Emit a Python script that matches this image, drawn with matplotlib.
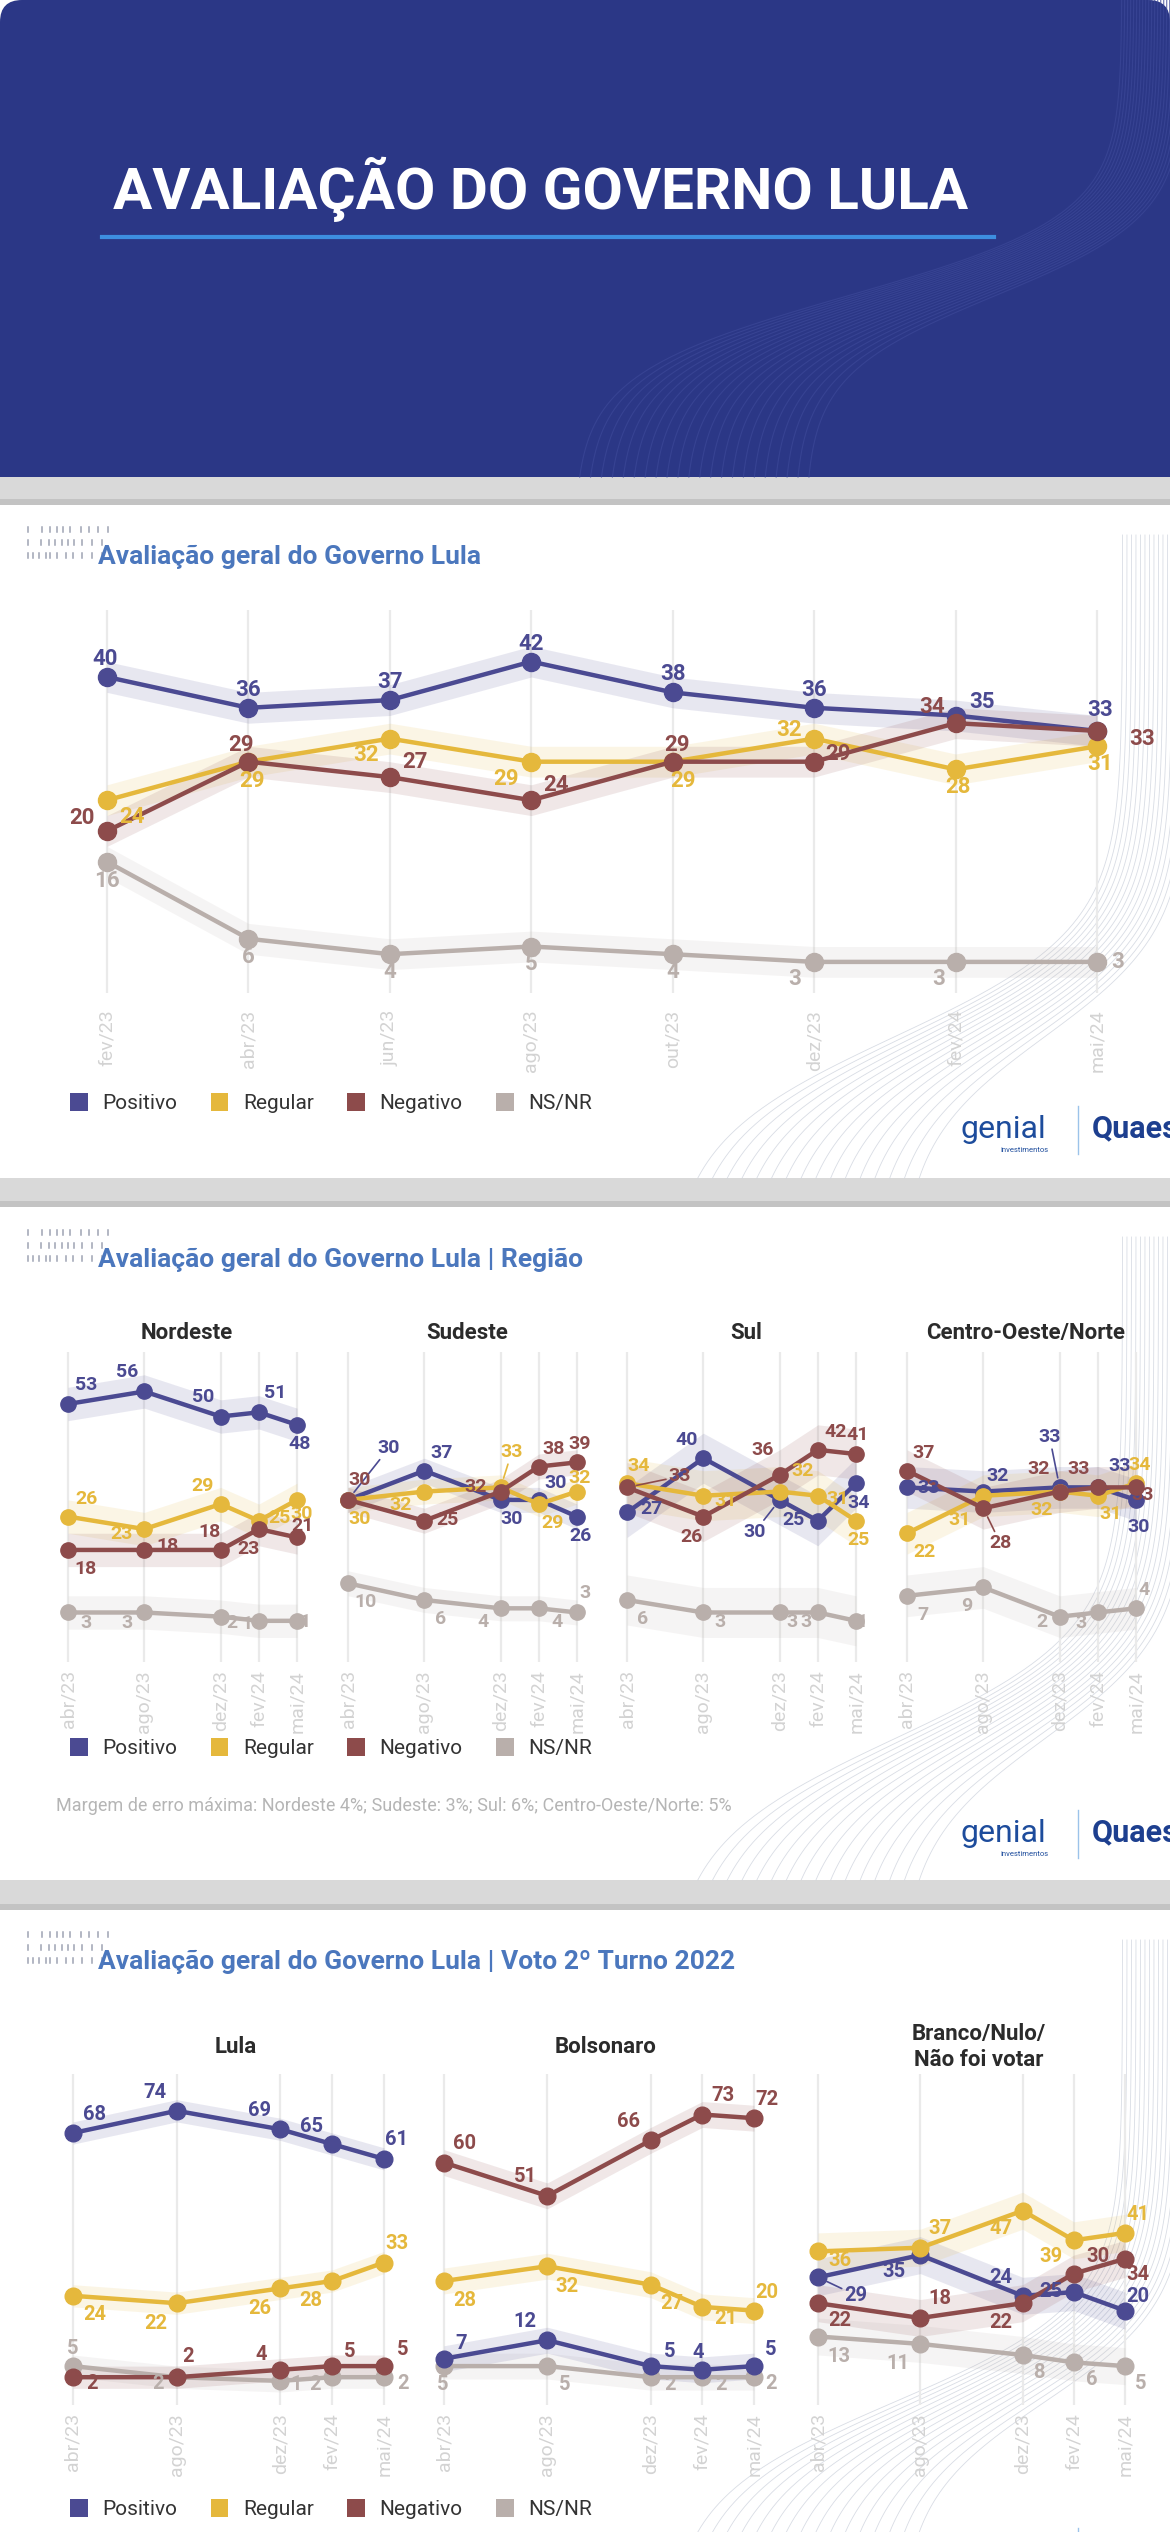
import matplotlib
matplotlib.use("Agg")
import matplotlib.pyplot as plt
from matplotlib.patches import Rectangle, FancyBboxPatch, Patch
import numpy as np

# ---------------- dados ----------------
SERIES = ["Positivo", "Regular", "Negativo", "NS/NR"]

MESES_GERAL = ["fev/23", "abr/23", "jun/23", "ago/23", "out/23", "dez/23", "fev/24", "mai/24"]
GERAL_POSITIVO = [40, 36, 37, 42, 38, 36, 35, 33]
GERAL_REGULAR = [24, 29, 32, 29, 29, 32, 28, 31]
GERAL_NEGATIVO = [20, 29, 27, 24, 29, 29, 34, 33]
GERAL_NSNR = [16, 6, 4, 5, 4, 3, 3, 3]
MARGEM_GERAL = 2

MESES = ["abr/23", "ago/23", "dez/23", "fev/24", "mai/24"]

REGIOES = ["Nordeste", "Sudeste", "Sul", "Centro-Oeste/Norte"]
MARGENS_REGIAO = [4, 3, 6, 5]
NE_POSITIVO = [53, 56, 50, 51, 48]
NE_REGULAR = [26, 23, 29, 25, 30]
NE_NEGATIVO = [18, 18, 18, 23, 21]
NE_NSNR = [3, 3, 2, 1, 1]
SE_POSITIVO = [30, 37, 30, 30, 26]
SE_REGULAR = [30, 32, 33, 29, 32]
SE_NEGATIVO = [30, 25, 32, 38, 39]
SE_NSNR = [10, 6, 4, 4, 3]
SUL_POSITIVO = [27, 40, 30, 25, 34]
SUL_REGULAR = [34, 31, 32, 31, 25]
SUL_NEGATIVO = [33, 26, 36, 42, 41]
SUL_NSNR = [6, 3, 3, 3, 1]
CO_POSITIVO = [33, 32, 33, 33, 30]
CO_REGULAR = [22, 31, 32, 31, 34]
CO_NEGATIVO = [37, 28, 32, 33, 33]
CO_NSNR = [7, 9, 2, 3, 4]

VOTOS = ["Lula", "Bolsonaro", "Branco/Nulo/\nNão foi votar"]
MARGENS_VOTO = [3, 3.5, 5]
LULA_POSITIVO = [68, 74, 69, 65, 61]
LULA_REGULAR = [24, 22, 26, 28, 33]
LULA_NEGATIVO = [2, 2, 4, 5, 5]
LULA_NSNR = [5, 2, 1, 2, 2]
BOLSO_POSITIVO = [7, 12, 5, 4, 5]
BOLSO_REGULAR = [28, 32, 27, 21, 20]
BOLSO_NEGATIVO = [60, 51, 66, 73, 72]
BOLSO_NSNR = [5, 5, 2, 2, 2]
BRANCO_POSITIVO = [29, 35, 24, 25, 20]
BRANCO_REGULAR = [36, 37, 47, 39, 41]
BRANCO_NEGATIVO = [22, 18, 22, 30, 34]
BRANCO_NSNR = [13, 11, 8, 6, 5]

# ---------------- estilo ----------------
W, H = 1170, 2532
PX = 0.72  # pontos por pixel (dpi 100)
COLORS = {"Positivo": "#4b4a92", "Regular": "#e5b83c", "Negativo": "#8d4b4b", "NS/NR": "#b9afab"}
DRAW_ORDER = ["NS/NR", "Positivo", "Regular", "Negativo"]
FONT = ["Roboto", "DejaVu Sans"]
TITLE_BLUE = "#4b77bd"
plt.rcParams["font.family"] = FONT

# posicao dos rotulos (dx, dy) em pixels, relativo ao ponto
OFF_GERAL = {
    "Positivo": [(-2, -18), (0, -18), (0, -18), (0, -18), (0, -18), (0, -18), (26, -14), (3, -21)],
    "Regular": [(25, 17), (4, 19), (-24, 16), (-25, 17), (10, 19), (-25, -9), (2, 18), (3, 18)],
    "Negativo": [(-25, -13), (-7, -17), (25, -15), (25, -15), (4, -17), (24, -8), (-24, -16), (45, 8)],
    "NS/NR": [(0, 19), (0, 18), (0, 18), (0, 18), (0, 18), (-19, 17), (-17, 17), (21, 0)],
}
OFF_REGIAO = [
    {"Positivo": [(18, -19), (-17, -19), (-18, -19), (16, -19), (3, 19)],
     "Regular": [(18, -18), (-23, 5), (-18, -18), (21, -3), (5, 14)],
     "Negativo": [(18, 19), (23, -4), (-11, -18), (-10, 20), (5, -11)],
     "NS/NR": [(18, 11), (-17, 11), (11, 6), (-12, 3), (8, 1)]},
    {"Positivo": [(41, -52), (17, -18), (11, 19), (17, -17), (3, 19)],
     "Regular": [(12, 19), (-24, 13), (11, -35), (14, 19), (3, -14)],
     "Negativo": [(12, -20), (23, -1), (-25, -5), (15, -18), (3, -18)],
     "NS/NR": [(18, 19), (16, 19), (-18, 14), (18, 14), (8, -19)]},
    {"Positivo": [(24, -3), (-17, -18), (-25, 32), (-24, -1), (3, 20)],
     "Regular": [(12, -17), (22, 5), (23, -21), (20, 3), (3, 19)],
     "Negativo": [(53, -11), (-12, 20), (-17, -25), (18, -18), (2, -19)],
     "NS/NR": [(16, 19), (17, 10), (12, 10), (-12, 10), (6, 1)]},
    {"Positivo": [(22, 1), (14, -16), (-10, -50), (22, -21), (3, 27)],
     "Regular": [(17, 19), (-24, 24), (-18, 18), (13, 18), (4, -18)],
     "Negativo": [(17, -18), (17, 35), (-21, -23), (-19, -18), (7, 8)],
     "NS/NR": [(16, 19), (-17, 19), (-18, 5), (-17, 11), (8, -18)]},
]
LEAD_REGIAO = [set(), {("Positivo", 0), ("Regular", 2)}, {("Positivo", 2), ("Negativo", 0)},
               {("Positivo", 2), ("Negativo", 1)}]
OFF_VOTO = [
    {"Positivo": [(21, -18), (-22, -18), (-21, -19), (-21, -18), (13, -19)],
     "Regular": [(22, 19), (-21, 20), (-21, 20), (-21, 20), (13, -19)],
     "Negativo": [(19, 6), (11, -21), (-19, -15), (18, -15), (19, -17)],
     "NS/NR": [(0, -18), (-19, 6), (16, 4), (-17, 7), (19, 6)]},
    {"Positivo": [(17, -15), (-22, -19), (19, -15), (-4, -17), (17, -17)],
     "Regular": [(21, 20), (20, 20), (21, 19), (23, 12), (13, -18)],
     "Negativo": [(21, -19), (-22, -19), (-22, -19), (21, -19), (13, -19)],
     "NS/NR": [(-1, 18), (17, 18), (19, 7), (19, 7), (17, 6)]},
    {"Positivo": [(38, 18), (-26, 16), (-22, -18), (-23, -1), (13, -14)],
     "Regular": [(22, 9), (20, -19), (-22, 18), (-23, 16), (13, -18)],
     "Negativo": [(22, 17), (20, -19), (-22, 19), (24, -17), (13, 16)],
     "NS/NR": [(21, 20), (-22, 20), (16, 17), (18, 17), (16, 17)]},
]
LEAD_VOTO = [set(), set(), {("Positivo", 0)}]

XPOS_GERAL = np.arange(len(MESES_GERAL))
XPOS = np.array([0, 2, 4, 5, 6])


def make_axes(fig, xa, xb, xmax, y0, k, top, bot, pad=45):
    """eixo cujo mapeamento de dados bate com a posicao em pixels"""
    left, right = xa - pad, xb + pad
    ax = fig.add_axes([left / W, 1 - bot / H, (right - left) / W, (bot - top) / H])
    ax.patch.set_alpha(0)
    sx = xmax / (xb - xa)
    ax.set_xlim(-pad * sx, xmax + pad * sx)
    ax.set_ylim((y0 - bot) / k, (y0 - top) / k)
    for s in ax.spines.values():
        s.set_visible(False)
    ax.set_yticks([])
    return ax


def draw_lines(ax, xpos, months, values, margin, offsets, leaders, ms, fs, tick_pad):
    ax.set_xticks(xpos)
    ax.set_xticklabels(months, rotation=90, fontsize=14, color="#d3d3d3")
    ax.tick_params(axis="x", length=0, pad=tick_pad)
    ax.grid(axis="x", color="#eaeaea", lw=1.6)
    ax.set_axisbelow(True)
    for name in DRAW_ORDER:
        v = np.array(values[SERIES.index(name)])
        ax.fill_between(xpos, v - margin, v + margin, color=COLORS[name], alpha=0.13, lw=0, zorder=1)
    for z, name in enumerate(DRAW_ORDER):
        v = values[SERIES.index(name)]
        ax.plot(xpos, v, color=COLORS[name], lw=3.2, marker="o", ms=ms, zorder=3 + z, clip_on=False)
    for name in DRAW_ORDER:
        v = values[SERIES.index(name)]
        for j, val in enumerate(v):
            dx, dy = offsets[name][j]
            arrow = None
            if (name, j) in leaders:
                arrow = dict(arrowstyle="-", color=COLORS[name], lw=1.2, shrinkA=0, shrinkB=7)
            ax.annotate(str(val), (xpos[j], val), xytext=(dx * PX, -dy * PX), textcoords="offset points",
                        ha="center", va="center", color=COLORS[name], fontsize=fs, fontweight="bold",
                        zorder=10, annotation_clip=False, arrowprops=arrow)


def draw_waves(bg, top, bot, color, x_end, spread, center, n=18, lw=0.7, alpha=0.7, step=2.2, fan=7):
    t = np.linspace(0, 1, 120)
    y = top + t * (bot - top)
    for i in range(n):
        s = 1 / (1 + np.exp(-(t - center) * 12))
        x = x_end - i * step - s * (spread + i * fan)
        bg.plot(x, y, color=color, lw=lw, alpha=alpha, zorder=1)


def draw_marks(bg, y_top):
    pattern = [[0, 9, 14, 18, 22, 26, 33, 38, 44, 50],
               [0, 8, 13, 17, 21, 25, 29, 34, 40, 46],
               [0, 3, 7, 11, 14, 18, 24, 28, 34, 40, 46]]
    for r, row in enumerate(pattern):
        for xo in row:
            bg.plot([28 + xo * 1.6, 28 + xo * 1.6], [y_top + r * 13, y_top + r * 13 + 5],
                    color="#9ea3b3", lw=1.1, zorder=2)


def draw_logos(bg, y):
    bg.text(960, y, "genial", color="#1d4c9c", fontsize=23, va="center", zorder=3)
    bg.text(1000, y + 20, "investimentos", color="#1d4c9c", fontsize=5.5, va="center", zorder=3)
    bg.plot([1078, 1078], [y - 24, y + 24], color="#9cc3ea", lw=1, zorder=3)
    bg.text(1092, y - 2, "Quaest", color="#1d3f8f", fontsize=22, fontweight="bold", va="center", zorder=3)


def legend(fig, y):
    handles = [Patch(facecolor=COLORS[s], edgecolor="none", label=s) for s in SERIES]
    leg = fig.legend(handles=handles, ncol=4, frameon=False, loc="center left",
                     bbox_to_anchor=(70 / W, 1 - y / H), handlelength=0.85, handleheight=1.0,
                     handletextpad=0.7, columnspacing=1.6, fontsize=15, borderaxespad=0, borderpad=0)
    for t in leg.get_texts():
        t.set_color("#333333")


fig = plt.figure(figsize=(W / 100, H / 100), dpi=100, facecolor="white")
bg = fig.add_axes([0, 0, 1, 1])
bg.set_xlim(0, W)
bg.set_ylim(H, 0)
bg.axis("off")

# cabecalho
bg.add_patch(FancyBboxPatch((0, 0), W, 477, boxstyle="round,pad=0,rounding_size=22", fc="#2b3786", ec="none"))
bg.add_patch(Rectangle((0, 200), W, 277, fc="#2b3786", ec="none"))
draw_waves(bg, 0, 477, "#3a4696", 1185, 380, 0.62, n=22, lw=0.8, alpha=0.8, step=3, fan=8)
bg.text(113, 209, "AVALIAÇÃO DO GOVERNO LULA", color="white", fontsize=42, fontweight="bold", va="baseline")
bg.plot([102, 994], [237, 237], color="#3d8ee0", lw=3)

# faixas cinzas entre paineis
for g0, g1 in [(477, 505), (1178, 1207), (1880, 1910)]:
    bg.add_patch(Rectangle((0, g0), W, g1 - g0, fc="#d9d9d9", ec="none", zorder=0.5))
    bg.add_patch(Rectangle((0, g1 - 6), W, 6, fc="#c3c3c3", ec="none", zorder=0.5))

for top, bot in [(505, 1178), (1207, 1880), (1910, 2532)]:
    draw_waves(bg, top + 30, bot, "#cfd4de", 1190, 290, 0.78, n=16, lw=0.6, alpha=0.8, step=4.5, fan=11)

# painel 1
draw_marks(bg, 527)
bg.text(98, 557, "Avaliação geral do Governo Lula", color=TITLE_BLUE, fontsize=19, fontweight="bold", va="center")
ax1 = make_axes(fig, 107, 1097, 7, 985, 7.70, 610, 993, pad=50)
draw_lines(ax1, XPOS_GERAL, MESES_GERAL, [GERAL_POSITIVO, GERAL_REGULAR, GERAL_NEGATIVO, GERAL_NSNR],
           MARGEM_GERAL, OFF_GERAL, set(), 13, 16, 12)
legend(fig, 1103)
draw_logos(bg, 1130)

# painel 2
draw_marks(bg, 1230)
bg.text(98, 1260, "Avaliação geral do Governo Lula | Região", color=TITLE_BLUE, fontsize=19,
        fontweight="bold", va="center")
regiao_vals = [
    [NE_POSITIVO, NE_REGULAR, NE_NEGATIVO, NE_NSNR],
    [SE_POSITIVO, SE_REGULAR, SE_NEGATIVO, SE_NSNR],
    [SUL_POSITIVO, SUL_REGULAR, SUL_NEGATIVO, SUL_NSNR],
    [CO_POSITIVO, CO_REGULAR, CO_NEGATIVO, CO_NSNR],
]
for i, xa in enumerate([68, 348, 627, 907]):
    ax = make_axes(fig, xa, xa + 229, 6, 1625, 4.17, 1352, 1662, pad=22)
    draw_lines(ax, XPOS, MESES, regiao_vals[i], MARGENS_REGIAO[i], OFF_REGIAO[i], LEAD_REGIAO[i], 11, 14, 6)
    bg.text(xa + 119, 1333, REGIOES[i], color="#2b2b2b", fontsize=16, fontweight="bold", ha="center", va="center")
legend(fig, 1748)
bg.text(56, 1806, "Margem de erro máxima: Nordeste 4%; Sudeste: 3%; Sul: 6%; Centro-Oeste/Norte: 5%",
        color="#b5b5b5", fontsize=13, va="center")
draw_logos(bg, 1834)

# painel 3
draw_marks(bg, 1932)
bg.text(98, 1962, "Avaliação geral do Governo Lula | Voto 2º Turno 2022", color=TITLE_BLUE, fontsize=19,
        fontweight="bold", va="center")
voto_vals = [
    [LULA_POSITIVO, LULA_REGULAR, LULA_NEGATIVO, LULA_NSNR],
    [BOLSO_POSITIVO, BOLSO_REGULAR, BOLSO_NEGATIVO, BOLSO_NSNR],
    [BRANCO_POSITIVO, BRANCO_REGULAR, BRANCO_NEGATIVO, BRANCO_NSNR],
]
for i, (xa, xb) in enumerate([(73, 384), (444, 754), (818, 1125)]):
    ax = make_axes(fig, xa, xb, 6, 2384.6, 3.70, 2074, 2405, pad=26)
    draw_lines(ax, XPOS, MESES, voto_vals[i], MARGENS_VOTO[i], OFF_VOTO[i], LEAD_VOTO[i], 12, 14.5, 6)
    bg.text((xa + xb) / 2 + 7, 2047, VOTOS[i], color="#2b2b2b", fontsize=16, fontweight="bold",
            ha="center", va="center", linespacing=1.25)
legend(fig, 2509)
draw_logos(bg, 2552)

fig.savefig("out.png", dpi=100, facecolor="white")
